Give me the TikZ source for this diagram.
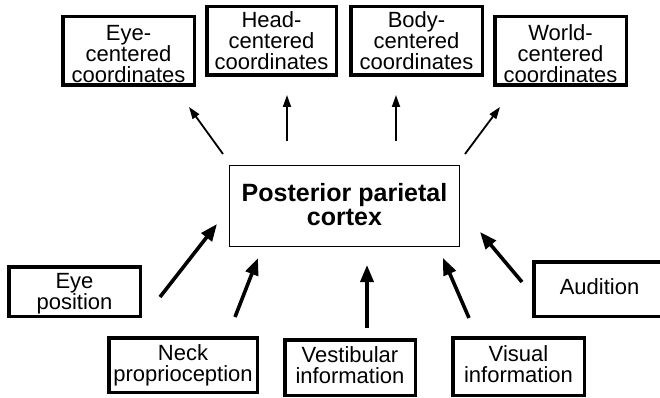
\documentclass[tikz,border=0pt]{standalone}
\usepackage{fontspec}
\setmainfont{Liberation Sans}
\usetikzlibrary{arrows.meta}
\newcommand{\topstrut}[1]{\rule{0pt}{#1}}
\newcommand{\botstrut}[1]{\rule[-#1]{0pt}{#1}}
\begin{document}
\begin{tikzpicture}[x=1pt,y=-1pt,
  lbl/.style={font=\fontsize{22}{21}\selectfont, align=center, inner sep=0pt},
  outbox/.style={lbl, draw, line width=3.5pt},
  midbox/.style={draw, line width=1.2pt, inner sep=0pt, align=center,
    font=\fontsize{25}{24}\selectfont\bfseries},
  thinarr/.style={line width=1.8pt, -{Triangle[length=12pt,width=8pt]}},
  thickarr/.style={line width=3.6pt, -{Triangle[length=17pt,width=13pt]}}]
\useasboundingbox (0,0) rectangle (660,398);
\fill[white] (0,0) rectangle (660,398);
% top boxes
\node[outbox, minimum width=131.5pt, minimum height=68.5pt] (eyec) at (128.5,51) {\topstrut{21pt}Eye-\\centered\\coordinates};
\node[outbox, minimum width=129.5pt, minimum height=68.5pt] (headc) at (271.5,41) {Head-\\centered\\coordinates};
\node[outbox, minimum width=131.5pt, minimum height=68.5pt] (bodyc) at (416.5,41) {Body-\\centered\\coordinates};
\node[outbox, minimum width=131.5pt, minimum height=68.5pt] (worldc) at (560.5,51) {\topstrut{21pt}World-\\centered\\coordinates};
% centre
\node[midbox, minimum width=229.8pt, minimum height=80.8pt] (ppc) at (344.5,206) {Posterior parietal\\cortex\botstrut{3pt}};
% bottom boxes
\node[outbox, minimum width=131.5pt, minimum height=49.5pt] (eyep) at (74.5,291.5) {\topstrut{20.5pt}Eye\\position};
\node[outbox, minimum width=148.5pt, minimum height=54.5pt] (neck) at (183,365) {Neck\\proprioception};
\node[outbox, minimum width=130.5pt, minimum height=55.5pt] (vest) at (350,367.5) {Vestibular\\information\botstrut{5pt}};
\node[outbox, minimum width=131.5pt, minimum height=57.5pt] (vis) at (518.5,366.5) {Visual\\information\botstrut{5pt}};
\node[outbox, minimum width=131.5pt, minimum height=54.5pt] (aud) at (599.5,289) {Audition\botstrut{4pt}};
% arrow end points
\coordinate (t1s) at (223,154); \coordinate (t1e) at (189,107);
\coordinate (t2s) at (287,141); \coordinate (t2e) at (287,95);
\coordinate (t3s) at (396,141); \coordinate (t3e) at (396,95);
\coordinate (t4s) at (465,154); \coordinate (t4e) at (500,107);
\coordinate (b1s) at (160,297); \coordinate (b1e) at (217,224);
\coordinate (b2s) at (235,317); \coordinate (b2e) at (258,258);
\coordinate (b3s) at (367,328); \coordinate (b3e) at (367,265);
\coordinate (b4s) at (469,318); \coordinate (b4e) at (443,258);
\coordinate (b5s) at (522,282); \coordinate (b5e) at (480,232);
\draw[thinarr] (t1s) -- (t1e);
\draw[thinarr] (t2s) -- (t2e);
\draw[thinarr] (t3s) -- (t3e);
\draw[thinarr] (t4s) -- (t4e);
\draw[thickarr] (b1s) -- (b1e);
\draw[thickarr] (b2s) -- (b2e);
\draw[thickarr] (b3s) -- (b3e);
\draw[thickarr] (b4s) -- (b4e);
\draw[thickarr] (b5s) -- (b5e);
\end{tikzpicture}
\end{document}
